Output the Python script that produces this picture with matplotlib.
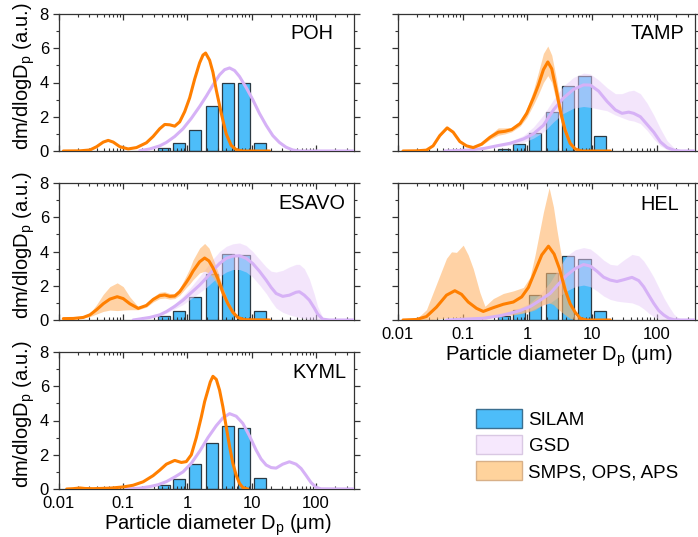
import matplotlib
matplotlib.use("Agg")
import matplotlib.pyplot as plt
import numpy as np
from matplotlib.patches import Patch
from matplotlib.ticker import LogLocator, MultipleLocator, NullFormatter

plt.rcParams["font.family"] = ["Liberation Sans", "DejaVu Sans"]
plt.rcParams["mathtext.fontset"] = "custom"
plt.rcParams["mathtext.rm"] = "Liberation Sans"
plt.rcParams["mathtext.it"] = "Liberation Sans:italic"

# ---------------- data ----------------
X_TICKS = [0.01, 0.1, 1, 10, 100]
X_TICK_LABELS = ["0.01", "0.1", "1", "10", "100"]
Y_TICKS = [0, 2, 4, 6, 8]

# SILAM size bins (bin centre, um) and heights per station
SILAM_D = [0.43, 0.75, 1.31, 2.40, 4.23, 7.6, 13.4]
POH_SILAM = [0.2, 0.47, 1.23, 2.6, 4.0, 4.0, 0.49]
TAMP_SILAM = [0.14, 0.43, 1.05, 2.3, 3.8, 4.37, 0.9]
ESAVO_SILAM = [0.23, 0.54, 1.36, 2.66, 3.83, 3.81, 0.5]
HEL_SILAM = [0.25, 0.56, 1.44, 2.72, 3.75, 3.57, 0.54]
KYML_SILAM = [0.25, 0.58, 1.46, 2.68, 3.67, 3.57, 0.64]

# POH
POH_SMPS_D = [0.0118, 0.0214, 0.0306, 0.0388, 0.0493, 0.0589, 0.0704, 0.0893, 0.120, 0.162,
              0.231, 0.294, 0.372, 0.445, 0.532, 0.637, 0.760, 0.910, 1.086, 1.30,
              1.553, 1.750, 1.923, 2.22, 2.50, 2.82, 3.37, 4.02, 4.80, 5.75, 7.29, 18.9]
POH_SMPS = [0, 0.01, 0.06, 0.25, 0.52, 0.62, 0.52, 0.25, 0.12, 0.2,
            0.48, 0.85, 1.3, 1.55, 1.53, 1.45, 1.7, 2.3, 3.1, 4.2,
            5.15, 5.6, 5.72, 5.3, 4.6, 3.55, 2.2, 1.0, 0.33, 0.08, 0, 0]
POH_GSD_D = [0.182, 0.261, 0.372, 0.472, 0.637, 0.857, 1.15, 1.553, 1.97, 2.50,
             3.17, 3.80, 4.53, 5.42, 6.47, 8.22, 10.4, 13.2, 16.8, 21.3,
             27.0, 34.3, 43.5, 55.2, 400]
POH_GSD = [0.02, 0.12, 0.3, 0.5, 0.85, 1.3, 1.9, 2.6, 3.2, 3.85,
           4.45, 4.75, 4.85, 4.7, 4.35, 3.7, 3.0, 2.2, 1.5, 0.9,
           0.5, 0.22, 0.06, 0, 0]

# TAMP
TAMP_SMPS_D = [0.01195, 0.0192, 0.0275, 0.0349, 0.0443, 0.0575, 0.0712, 0.0904, 0.1147, 0.1455,
               0.196, 0.264, 0.355, 0.451, 0.571, 0.770, 0.977, 1.24, 1.48, 1.77,
               2.07, 2.38, 2.78, 3.29, 3.84, 4.58, 5.48, 6.95, 19.1]
TAMP_SMPS = [0, 0.01, 0.05, 0.3, 0.9, 1.35, 1.1, 0.55, 0.3, 0.2,
             0.4, 0.8, 1.1, 1.15, 1.25, 1.6, 2.2, 3.1, 3.85, 4.75,
             5.2, 4.8, 3.6, 2.2, 1.2, 0.45, 0.12, 0, 0]
TAMP_SMPS_HI = [0, 0.01, 0.05, 0.32, 0.95, 1.42, 1.15, 0.58, 0.32, 0.22,
                0.5, 0.95, 1.35, 1.35, 1.38, 1.75, 2.45, 3.55, 4.6, 5.7,
                6.13, 5.6, 4.3, 2.7, 1.5, 0.6, 0.18, 0.02, 0]
TAMP_SMPS_LO = [0, 0.01, 0.05, 0.28, 0.85, 1.28, 1.05, 0.52, 0.28, 0.18,
                0.33, 0.68, 0.92, 1.0, 1.12, 1.45, 1.95, 2.7, 3.3, 4.0,
                4.4, 4.0, 2.95, 1.75, 0.9, 0.3, 0.07, 0, 0]
TAMP_GSD_D = [0.0529, 0.1147, 0.208, 0.335, 0.539, 0.867, 1.24, 1.77, 2.53, 3.62,
              5.17, 7.38, 9.37, 12.6, 17.0, 22.9, 29.0, 36.8, 44.0, 55.8,
              70.8, 89.8, 114, 144.5, 183.5, 233, 400]
TAMP_GSD = [0, 0.05, 0.14, 0.3, 0.45, 0.7, 1.0, 1.5, 2.4, 3.1,
            3.6, 3.86, 3.85, 3.5, 2.9, 2.4, 2.2, 2.27, 2.2, 2.0,
            1.55, 1.1, 0.53, 0.2, 0.05, 0, 0]
TAMP_GSD_HI = [0, 0.06, 0.16, 0.35, 0.55, 0.9, 1.4, 2.1, 3.0, 3.8,
               4.3, 4.55, 4.5, 4.15, 3.7, 3.35, 3.35, 3.5, 3.55, 3.35,
               2.8, 2.1, 1.3, 0.6, 0.2, 0.02, 0]
TAMP_GSD_LO = [0, 0.04, 0.12, 0.25, 0.35, 0.5, 0.75, 1.1, 1.7, 2.2,
               2.5, 2.6, 2.55, 2.45, 2.35, 2.1, 1.95, 1.8, 1.75, 1.6,
               1.2, 0.7, 0.3, 0.08, 0, 0, 0]

# ESAVO
ESAVO_SMPS_D = [0.0118, 0.0169, 0.0241, 0.0306, 0.0388, 0.0493, 0.0625, 0.0812, 0.1006, 0.1276,
                0.172, 0.231, 0.294, 0.372, 0.445, 0.532, 0.637, 0.760, 0.964, 1.086,
                1.224, 1.553, 1.857, 2.17, 2.50, 2.99, 3.57, 4.27, 5.10, 6.10, 7.74, 18.9]
ESAVO_SMPS = [0.08, 0.09, 0.15, 0.3, 0.6, 0.95, 1.22, 1.36, 1.25, 0.95,
              0.68, 0.85, 1.2, 1.42, 1.46, 1.38, 1.4, 1.65, 2.2, 2.5,
              2.85, 3.4, 3.62, 3.45, 3.05, 2.4, 1.6, 0.95, 0.45, 0.15, 0.02, 0]
ESAVO_SMPS_HI = [0.08, 0.1, 0.18, 0.4, 0.9, 1.5, 1.95, 2.17, 1.95, 1.35,
                 0.78, 0.95, 1.35, 1.62, 1.65, 1.55, 1.55, 1.85, 2.6, 3.0,
                 3.5, 4.2, 4.47, 4.2, 3.6, 2.8, 1.9, 1.15, 0.6, 0.22, 0.03, 0]
ESAVO_SMPS_LO = [0.07, 0.08, 0.12, 0.2, 0.35, 0.5, 0.58, 0.55, 0.58, 0.6,
                 0.6, 0.75, 1.05, 1.25, 1.28, 1.22, 1.25, 1.45, 1.9, 2.1,
                 2.35, 2.75, 2.85, 2.75, 2.5, 2.0, 1.3, 0.75, 0.3, 0.08, 0, 0]
ESAVO_GSD_D = [0.144, 0.261, 0.372, 0.472, 0.637, 0.857, 1.153, 1.553, 1.97, 2.50,
               3.17, 4.02, 5.10, 6.47, 8.22, 10.4, 13.2, 16.8, 20.1, 24.0,
               30.4, 38.6, 49.0, 55.2, 65.8, 78.8, 94.2, 106, 127, 161, 400]
ESAVO_GSD = [0, 0.15, 0.3, 0.49, 0.8, 1.16, 1.6, 2.04, 2.45, 2.9,
             3.3, 3.6, 3.73, 3.75, 3.6, 3.3, 2.85, 2.33, 1.9, 1.55,
             1.38, 1.45, 1.62, 1.65, 1.45, 1.16, 0.7, 0.35, 0.05, 0, 0]
ESAVO_GSD_HI = [0, 0.17, 0.35, 0.58, 0.95, 1.4, 1.95, 2.55, 3.05, 3.55,
                4.0, 4.3, 4.45, 4.5, 4.35, 4.0, 3.55, 3.1, 2.85, 2.8,
                2.9, 3.1, 3.25, 3.25, 3.0, 2.4, 1.5, 0.8, 0.15, 0, 0]
ESAVO_GSD_LO = [0, 0.13, 0.25, 0.4, 0.65, 0.9, 1.25, 1.6, 1.9, 2.25,
                2.55, 2.8, 2.95, 2.95, 2.8, 2.5, 2.05, 1.55, 1.1, 0.7,
                0.45, 0.3, 0.2, 0.15, 0.08, 0.04, 0.01, 0, 0, 0, 0]

# HEL
HEL_SMPS_D = [0.01195, 0.0192, 0.0275, 0.0393, 0.0562, 0.0756, 0.0959, 0.1217, 0.1638, 0.208,
              0.297, 0.4246, 0.607, 0.817, 1.037, 1.315, 1.668, 2.117, 2.59, 3.13,
              3.84, 4.58, 5.48, 6.54, 8.30, 19.1]
HEL_SMPS = [0, 0.03, 0.2, 0.75, 1.45, 1.71, 1.5, 1.05, 0.68, 0.5,
            0.72, 0.92, 1.05, 1.35, 1.9, 2.85, 3.8, 4.31, 3.85, 3.0,
            1.75, 0.95, 0.45, 0.1, 0, 0]
HEL_BAND_D = [0.01195, 0.0192, 0.0275, 0.0393, 0.0562, 0.0671, 0.0802, 0.1018, 0.1217, 0.1455,
              0.1846, 0.2208, 0.297, 0.4246, 0.607, 0.867, 1.099, 1.315, 1.571, 1.77,
              2.167, 2.53, 2.85, 3.29, 3.84, 4.58, 5.48, 6.54, 8.30, 19.1]
HEL_SMPS_HI = [0, 0.05, 0.6, 2.1, 3.6, 3.98, 3.95, 4.37, 3.8, 3.0,
               1.6, 0.8, 1.25, 1.55, 1.7, 1.9, 2.5, 3.8, 5.3, 6.3,
               7.73, 6.6, 5.3, 3.9, 2.2, 0.9, 0.25, 0.02, 0, 0]
HEL_SMPS_LO = [0, 0, 0, 0.05, 0.12, 0.15, 0.15, 0.12, 0.08, 0.05,
               0.05, 0.05, 0.15, 0.25, 0.3, 0.4, 0.5, 0.6, 0.8, 0.9,
               1.0, 0.9, 0.7, 0.5, 0.3, 0.1, 0.02, 0, 0, 0]
HEL_GSD_D = [0.0562, 0.208, 0.377, 0.539, 0.770, 1.10, 1.57, 2.245, 3.03, 4.07,
             5.48, 7.38, 9.37, 11.88, 15.07, 19.1, 24.26, 30.77, 41.4, 52.6,
             62.8, 75.1, 89.8, 107.4, 128.5, 153.6, 183.5, 233, 400]
HEL_GSD = [0, 0.1, 0.25, 0.39, 0.55, 0.78, 1.15, 1.55, 2.1, 2.62,
           3.0, 3.24, 3.15, 2.85, 2.5, 2.33, 2.25, 2.35, 2.49, 2.3,
           1.94, 1.45, 0.97, 0.55, 0.29, 0.1, 0.02, 0, 0]
HEL_GSD_HI = [0, 0.12, 0.3, 0.48, 0.7, 1.0, 1.5, 2.2, 3.0, 3.75,
              4.1, 4.23, 4.15, 3.85, 3.5, 3.25, 3.2, 3.5, 3.83, 3.75,
              3.45, 3.0, 2.5, 1.9, 1.3, 0.8, 0.35, 0.02, 0]
HEL_GSD_LO = [0, 0.08, 0.2, 0.3, 0.4, 0.55, 0.8, 1.0, 1.35, 1.7,
              1.95, 2.04, 1.95, 1.7, 1.4, 1.2, 1.1, 1.05, 1.0, 0.85,
              0.65, 0.4, 0.2, 0.08, 0, 0, 0, 0, 0]

# KYML
KYML_SMPS_D = [0.0133, 0.0169, 0.0214, 0.0256, 0.0345, 0.0625, 0.1006, 0.1438, 0.2055, 0.2935,
               0.3723, 0.4723, 0.637, 0.807, 0.964, 1.153, 1.379, 1.648, 1.857, 2.091,
               2.274, 2.50, 2.82, 3.17, 3.57, 4.02, 4.53, 5.10, 5.75, 6.47, 7.29, 8.7]
KYML_SMPS = [0, 0.02, 0.06, 0.03, 0.02, 0.05, 0.12, 0.22, 0.42, 0.78,
             1.1, 1.45, 1.67, 1.55, 1.6, 2.0, 3.0, 4.2, 5.1, 5.77,
             6.25, 6.58, 6.4, 5.77, 4.8, 3.63, 2.5, 1.5, 0.8, 0.33, 0.08, 0]
KYML_GSD_D = [0.1133, 0.1824, 0.2606, 0.351, 0.4723, 0.637, 0.857, 1.153, 1.553, 2.091,
              2.82, 3.57, 4.53, 5.75, 7.29, 9.25, 11.74, 14.0, 16.8, 20.1,
              24.0, 30.4, 38.6, 49.0, 58.6, 70.0, 83.6, 100, 119.6, 400]
KYML_GSD = [0, 0.05, 0.14, 0.25, 0.43, 0.7, 1.0, 1.5, 2.2, 3.0,
            3.7, 4.15, 4.4, 4.25, 3.83, 3.1, 2.27, 1.75, 1.4, 1.25,
            1.22, 1.45, 1.59, 1.45, 1.2, 0.8, 0.38, 0.1, 0.01, 0]

# ---------------- style ----------------
BAR_BLUE = "#4dbdf9"
BAR_EDGE = "#2b3a44"
ORANGE = "#ff7f00"
ORANGE_BAND = "#ffb56a"
PURPLE = "#d6b1f6"
PURPLE_BAND = "#e8cdf9"
BAR_HALF = 0.095  # half bar width in decades

W, H = 698, 537


def rect(x0, y0, x1, y1):
    return [x0 / W, 1 - y1 / H, (x1 - x0) / W, (y1 - y0) / H]


def style_axes(ax, show_x, show_y):
    ax.set_xscale("log")
    ax.set_xlim(0.01, 390)
    ax.set_ylim(0, 8)
    ax.set_xticks(X_TICKS)
    ax.set_xticklabels(X_TICK_LABELS if show_x else [""] * len(X_TICKS))
    ax.xaxis.set_minor_locator(LogLocator(base=10, subs=np.arange(2, 10)))
    ax.xaxis.set_minor_formatter(NullFormatter())
    ax.set_yticks(Y_TICKS)
    if not show_y:
        ax.set_yticklabels([])
    ax.yaxis.set_minor_locator(MultipleLocator(1))
    ax.tick_params(axis="x", which="both", direction="in", top=True, bottom=True,
                   labelsize=12, pad=5)
    ax.tick_params(axis="y", which="both", direction="out", left=True, right=True,
                   labelsize=12, pad=3)
    ax.tick_params(which="major", length=4, width=0.9, color="#333333")
    ax.tick_params(which="minor", length=2.2, width=0.8, color="#333333")
    for sp in ax.spines.values():
        sp.set_linewidth(0.9)
        sp.set_color("#333333")


def draw_panel(ax, silam, smps_d, smps, gsd_d, gsd, smps_band=None, gsd_band=None):
    lefts = [d * 10 ** (-BAR_HALF) for d in SILAM_D]
    widths = [d * (10 ** BAR_HALF - 10 ** (-BAR_HALF)) for d in SILAM_D]
    ax.bar(lefts, silam, width=widths, align="edge", color=BAR_BLUE,
           edgecolor=BAR_EDGE, linewidth=0.9, zorder=1)
    if gsd_band is not None:
        ax.fill_between(gsd_band[0], gsd_band[1], gsd_band[2], color=PURPLE_BAND,
                        alpha=0.5, lw=0, zorder=2)
    if smps_band is not None:
        ax.fill_between(smps_band[0], smps_band[1], smps_band[2], color=ORANGE_BAND,
                        alpha=0.6, lw=0, zorder=2)
    ax.plot(gsd_d, gsd, color=PURPLE, lw=2.2, zorder=3, solid_capstyle="round")
    ax.plot(smps_d, smps, color=ORANGE, lw=2.2, zorder=4, solid_capstyle="round")


fig = plt.figure(figsize=(6.98, 5.37), dpi=100)

panels = [
    ("POH", rect(58.7, 14, 354, 151), (0.929, 0.86), False, True,
     (POH_SILAM, POH_SMPS_D, POH_SMPS, POH_GSD_D, POH_GSD, None, None)),
    ("TAMP", rect(398, 14, 695, 151), (0.963, 0.86), False, False,
     (TAMP_SILAM, TAMP_SMPS_D, TAMP_SMPS, TAMP_GSD_D, TAMP_GSD,
      (TAMP_SMPS_D, TAMP_SMPS_LO, TAMP_SMPS_HI), (TAMP_GSD_D, TAMP_GSD_LO, TAMP_GSD_HI))),
    ("ESAVO", rect(58.7, 183, 354, 320), (0.97, 0.852), False, True,
     (ESAVO_SILAM, ESAVO_SMPS_D, ESAVO_SMPS, ESAVO_GSD_D, ESAVO_GSD,
      (ESAVO_SMPS_D, ESAVO_SMPS_LO, ESAVO_SMPS_HI), (ESAVO_GSD_D, ESAVO_GSD_LO, ESAVO_GSD_HI))),
    ("HEL", rect(398, 183, 695, 320), (0.946, 0.84), True, False,
     (HEL_SILAM, HEL_SMPS_D, HEL_SMPS, HEL_GSD_D, HEL_GSD,
      (HEL_BAND_D, HEL_SMPS_LO, HEL_SMPS_HI), (HEL_GSD_D, HEL_GSD_LO, HEL_GSD_HI))),
    ("KYML", rect(58.7, 352, 354, 489), (0.975, 0.847), True, True,
     (KYML_SILAM, KYML_SMPS_D, KYML_SMPS, KYML_GSD_D, KYML_GSD, None, None)),
]

for name, r, label_pos, show_x, show_y, series in panels:
    ax = fig.add_axes(r)
    draw_panel(ax, *series)
    style_axes(ax, show_x, show_y)
    ax.text(label_pos[0], label_pos[1], name, transform=ax.transAxes,
            ha="right", va="center", fontsize=14.3)
    if show_y:
        ax.set_ylabel("dm/dlogD$_\\mathrm{p}$ (a.u.)", fontsize=14.5)
        ax.yaxis.set_label_coords(-0.075, 0.55)
    if show_x:
        ax.set_xlabel("Particle diameter D$_\\mathrm{p}$ (\u03bcm)", fontsize=14.5)
        ax.xaxis.set_label_coords(0.54, -0.17)

handles = [
    Patch(facecolor=BAR_BLUE, edgecolor="#3b6f90", linewidth=1.0),
    Patch(facecolor="#f6e8fd", edgecolor="#d9c8e3", linewidth=1.0),
    Patch(facecolor="#ffd39c", edgecolor="#d8b088", linewidth=1.0),
]
fig.legend(handles, ["SILAM", "GSD", "SMPS, OPS, APS"], loc="upper left",
           bbox_to_anchor=(476 / W, 1 - 409 / H), frameon=False, fontsize=13.5,
           handlelength=2.45, handleheight=1.15, handletextpad=0.35,
           labelspacing=0.35, borderpad=0, borderaxespad=0)

fig.savefig("out.png", dpi=100)
